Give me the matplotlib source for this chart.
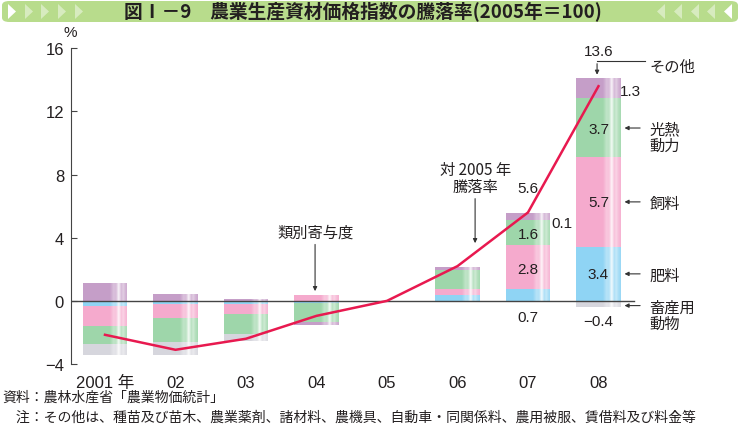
import numpy as np
import matplotlib
matplotlib.use("Agg")
import matplotlib.pyplot as plt
from matplotlib.patches import FancyBboxPatch, Polygon

plt.rcParams['font.family'] = ['Liberation Sans', 'Noto Sans CJK JP', 'DejaVu Sans']
JP = ['Noto Sans CJK JP', 'DejaVu Sans']
TXT = '#231f20'

# DATA
years = ['2001 年', '02', '03', '04', '05', '06', '07', '08']
rate = [-2.15, -3.1, -2.4, -0.95, 0.0, 2.2, 5.6, 13.6]   # 対2005年騰落率

# category contributions (stack order from zero outward)
fert   = [-0.33, -0.23, -0.23, -0.15, 0.0, 0.34, 0.72, 3.4]   # 肥料
feed   = [-1.27, -0.85, -0.59, 0.36, 0.0, 0.42, 2.8, 5.7]     # 飼料
energy = [-1.15, -1.52, -1.28, -1.2, 0.0, 1.22, 1.62, 3.75]   # 光熱動力
other  = [1.14, 0.44, 0.13, -0.15, 0.0, 0.16, 0.42, 1.25]     # その他
animal = [-0.68, -0.85, -0.47, 0.0, 0.0, 0.0, 0.0, -0.4]      # 畜産用動物

series = [fert, feed, energy, other, animal]
colors = ['#8fd4f4', '#f5aacd', '#9ed6aa', '#c59ec8', '#d6d6dd']

fig = plt.figure(figsize=(7.4, 4.31), dpi=100)
ax = fig.add_axes([71 / 740, 66 / 431, 569 / 740, 315.7 / 431])

x = np.arange(len(years))
w = 0.625

# gloss profile across a bar
prof_x = [0, 0.6, 0.68, 0.74, 0.8, 0.86, 0.9, 0.95, 1.0]
prof_a = [0, 0, 0.35, 0.3, 0.9, 0.25, 0.5, 0.25, 0.1]
gx = np.linspace(0, 1, 60)
ga = np.interp(gx, prof_x, prof_a)
gloss = np.ones((1, 60, 4))
gloss[0, :, 3] = ga

for i in x:
    pos, neg = 0.0, 0.0
    for s, c in zip(series, colors):
        v = s[i]
        if v > 0:
            ax.bar(i, v, w, bottom=pos, color=c, linewidth=0, zorder=2)
            pos += v
        elif v < 0:
            ax.bar(i, v, w, bottom=neg, color=c, linewidth=0, zorder=2)
            neg += v
    if pos != neg:
        ax.imshow(gloss, extent=(i - w / 2, i + w / 2, neg, pos),
                  aspect='auto', zorder=3, interpolation='bilinear')

ax.plot([-0.48, 7.5], [0, 0], color='#444444', lw=1.0, zorder=4)
ax.plot(x, rate, color='#e8194f', lw=1.8, zorder=5)

ax.set_xlim(-0.482, 7.589)
ax.set_ylim(-4, 16)
for sp in ['top', 'right', 'bottom']:
    ax.spines[sp].set_visible(False)
ax.spines['left'].set_color('#444444')
ax.set_yticks([-4, 0, 4, 8, 12, 16])
ax.set_yticklabels(['\u22124', '0', '4', '8', '12', '16'])
ax.tick_params(axis='y', direction='in', length=4, color='#444444',
               labelsize=12, labelcolor=TXT, pad=5)
ax.set_xticks(x)
ax.set_xticklabels(years, family=['Liberation Sans', 'Noto Sans CJK JP'])
ax.tick_params(axis='x', length=0, labelsize=12, labelcolor=TXT, pad=8)

def num(xx, yy, s, ha='center'):
    ax.text(xx, yy, s, ha=ha, va='center', fontsize=11, color=TXT, zorder=6)

num(7, 15.8, '13.6')
num(7.31, 13.3, '1.3', ha='left')
num(7, 10.9, '3.7')
num(7, 6.27, '5.7')
num(7, 1.7, '3.4')
num(7, -1.27, '\u22120.4')
num(6, 7.15, '5.6')
num(6.48, 4.94, '0.1')
num(6, 4.24, '1.6')
num(6, 2.03, '2.8')
num(6, -1.01, '0.7')

arr = dict(arrowstyle='-|>', color='#333333', lw=0.8, mutation_scale=6)

# その他 bracket
ax.plot([7.66, 6.98], [15.19, 15.19], color='#333333', lw=0.8, clip_on=False)
ax.annotate('', xy=(6.98, 14.15), xytext=(6.98, 15.2), arrowprops=arr)
ax.text(7.73, 14.87, 'その他', family=JP, fontsize=11, color=TXT,
        va='center', ha='left')

right_labels = [('光熱\n動力', 10.95, 10.4), ('飼料', 6.27, 6.2),
                ('肥料', 1.71, 1.6), ('畜産用\n動物', -0.3, -0.93)]
for lab, ya, yt in right_labels:
    ax.annotate('', xy=(7.33, ya), xytext=(7.63, ya), arrowprops=arr,
                annotation_clip=False)
    ax.text(7.72, yt, lab, family=JP, fontsize=11, color=TXT, va='center',
            ha='left', linespacing=0.95, clip_on=False)

ax.annotate('', xy=(2.98, 0.44), xytext=(2.98, 3.75), arrowprops=arr)
ax.text(2.98, 4.37, '類別寄与度', family=JP, fontsize=11, color=TXT,
        ha='center', va='center')
ax.annotate('', xy=(5.25, 3.48), xytext=(5.25, 6.65), arrowprops=arr)
ax.text(5.25, 7.78, '対 2005 年\n騰落率', family=JP, fontsize=11, color=TXT,
        ha='center', va='center', linespacing=0.95)

fig.text(70 / 740, 1 - 33 / 431, '%', fontsize=11, color=TXT,
         ha='center', va='center')

# title banner
banner = FancyBboxPatch((2 / 740, 1 - 23 / 431), 736 / 740, 21 / 431,
                        boxstyle='round,pad=0,rounding_size=0.01',
                        transform=fig.transFigure, facecolor='#b8dc8c',
                        edgecolor='none')
fig.patches.append(banner)
tri_left = [8, 25, 41, 58, 75]
tri_alpha = [1.0, 0.45, 0.45, 0.45, 0.45]
for px, a in zip(tri_left, tri_alpha):
    fig.patches.append(Polygon([[px / 740, 1 - 5 / 431], [px / 740, 1 - 20 / 431],
                                [(px + 8) / 740, 1 - 12.5 / 431]],
                               closed=True, transform=fig.transFigure,
                               facecolor='white', alpha=a, edgecolor='none'))
for px, a in zip(tri_left, tri_alpha):
    rx = 740 - px
    fig.patches.append(Polygon([[rx / 740, 1 - 5 / 431], [rx / 740, 1 - 20 / 431],
                                [(rx - 8) / 740, 1 - 12.5 / 431]],
                               closed=True, transform=fig.transFigure,
                               facecolor='white', alpha=a, edgecolor='none'))
fig.text(363 / 740, 1 - 12.5 / 431, '図Ⅰ－9　農業生産資材価格指数の騰落率(2005年＝100)',
         family=JP, fontsize=13.5, fontweight='bold', color=TXT,
         ha='center', va='center')

fig.text(2 / 740, 1 - 398 / 431, '資料：農林水産省「農業物価統計」',
         family=JP, fontsize=10, color=TXT, va='center')
fig.text(2 / 740, 1 - 418 / 431,
         '　注：その他は、種苗及び苗木、農業薬剤、諸材料、農機具、自動車・同関係料、農用被服、賃借料及び料金等',
         family=JP, fontsize=10, color=TXT, va='center')

fig.savefig('out.png', dpi=100)
